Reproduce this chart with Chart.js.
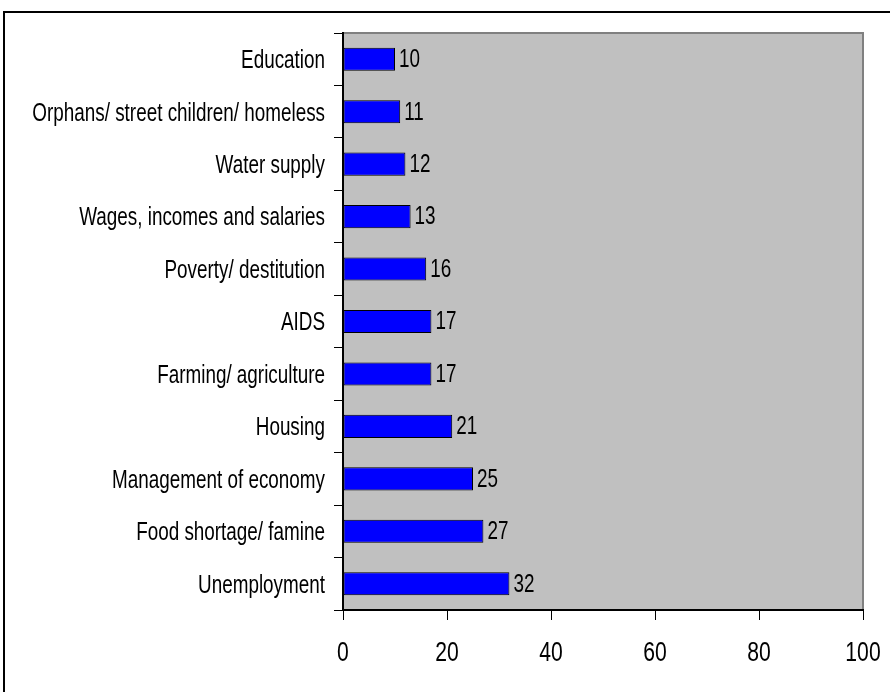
<!DOCTYPE html>
<html lang="en">
<head>
    <meta charset="UTF-8">
    <title>Most important problems</title>
    <style>
        html, body { margin: 0; padding: 0; background: #fff; }
        #wrap { width: 890px; height: 692px; }
    </style>
</head>
<body>
    <div id="wrap"><canvas id="canvas" width="890" height="692"></canvas></div>
</body>

<script src="https://cdn.jsdelivr.net/npm/chart.js"></script>

<script>
const problems = [
  'Education',
  'Orphans/ street children/ homeless',
  'Water supply',
  'Wages, incomes and salaries',
  'Poverty/ destitution',
  'AIDS',
  'Farming/ agriculture',
  'Housing',
  'Management of economy',
  'Food shortage/ famine',
  'Unemployment'
];
const percents = [10, 11, 12, 13, 16, 17, 17, 21, 25, 27, 32];
const xTicks = [0, 20, 40, 60, 80, 100];

const FONT = '"Liberation Sans", Arial, sans-serif';
const SQUEEZE = 0.755; // narrow lettering

// draw text squeezed horizontally, anchored at (x, y)
function narrowText(ctx, text, x, y, size, align) {
  ctx.save();
  ctx.font = size + 'px ' + FONT;
  ctx.fillStyle = '#000';
  ctx.textAlign = align;
  ctx.textBaseline = 'middle';
  ctx.translate(x, y);
  ctx.scale(SQUEEZE, 1);
  ctx.fillText(text, 0, 0);
  ctx.restore();
}

// gray plot area and the outer frame
const plotBackground = {
  id: 'plotBackground',
  beforeDraw(chart) {
    const {ctx, chartArea: a} = chart;
    ctx.save();
    ctx.fillStyle = '#C0C0C0';
    ctx.fillRect(a.left, a.top, a.right - a.left, a.bottom - a.top);
    ctx.strokeStyle = '#808080';
    ctx.lineWidth = 2;
    ctx.beginPath();
    ctx.moveTo(a.left, a.top);
    ctx.lineTo(a.right, a.top);
    ctx.lineTo(a.right, a.bottom);
    ctx.stroke();
    ctx.strokeStyle = '#000';
    ctx.lineWidth = 2;
    ctx.strokeRect(4, 12, 900, 700);
    ctx.restore();
  }
};

// axis labels and the value next to each bar
const narrowLabels = {
  id: 'narrowLabels',
  afterDatasetsDraw(chart) {
    const {ctx, scales: {x, y}, chartArea: a} = chart;
    problems.forEach((name, i) => {
      narrowText(ctx, name, a.left - 18, y.getPixelForValue(i) + 2, 25, 'right');
    });
    x.ticks.forEach(t => {
      narrowText(ctx, String(t.value), x.getPixelForValue(t.value), a.bottom + 43, 28, 'center');
    });
    chart.getDatasetMeta(0).data.forEach((bar, i) => {
      narrowText(ctx, String(percents[i]), bar.x + 4, bar.y + 1, 25, 'left');
    });
  }
};

new Chart(document.getElementById('canvas').getContext('2d'), {
  type: 'bar',
  data: {
    labels: problems,
    datasets: [{
      data: percents,
      backgroundColor: '#0000FF',
      borderColor: '#000',
      borderWidth: 1,
      borderSkipped: false,
      categoryPercentage: 1,
      barPercentage: 0.44
    }]
  },
  options: {
    indexAxis: 'y',
    responsive: false,
    animation: false,
    events: [],
    layout: { padding: { top: 33, right: 27, left: 0, bottom: 0 } },
    plugins: {
      legend: { display: false },
      tooltip: { enabled: false }
    },
    scales: {
      x: {
        min: 0,
        max: 100,
        afterBuildTicks(scale) { scale.ticks = xTicks.map(v => ({value: v})); },
        afterFit(scale) { scale.height = 82; },
        border: { color: '#000', width: 2 },
        grid: { drawOnChartArea: false, drawTicks: true, tickLength: 10, color: '#000', lineWidth: 1 },
        ticks: { display: false }
      },
      y: {
        afterFit(scale) { scale.width = 343; },
        border: { color: '#000', width: 2 },
        grid: { offset: true, drawOnChartArea: false, drawTicks: true, tickLength: 9, color: '#000', lineWidth: 1 },
        ticks: { display: false }
      }
    }
  },
  plugins: [plotBackground, narrowLabels]
});
</script>
</html>
